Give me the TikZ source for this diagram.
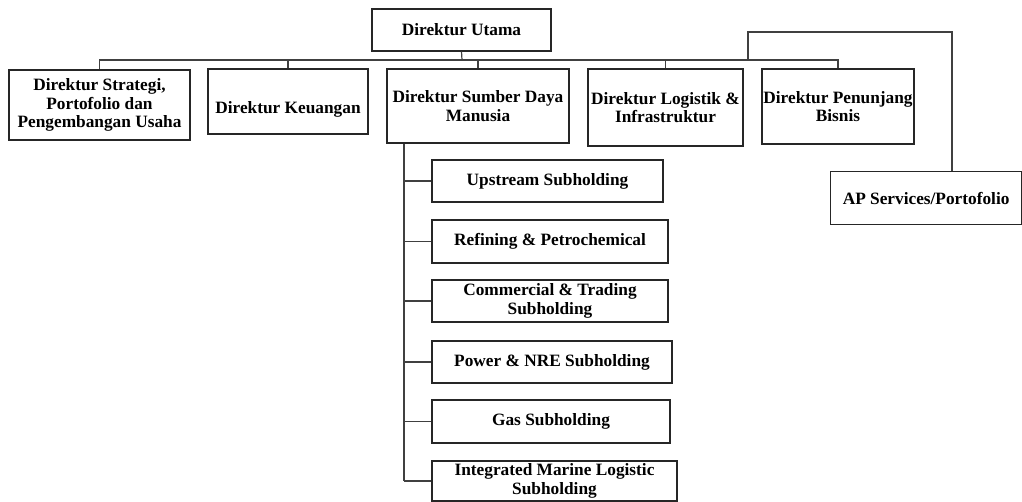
\documentclass[tikz,border=0pt]{standalone}
\usepackage{fontspec}
\setmainfont{Liberation Serif}
\begin{document}
\begin{tikzpicture}[x=1pt,y=-1pt,
  box/.style={draw=black!85, line width=1.2pt, align=center, inner sep=0pt,
    font=\bfseries\fontsize{17.3}{18.3}\selectfont},
  txt/.style={align=center, inner sep=0pt, font=\bfseries\fontsize{17.3}{18.3}\selectfont},
  conn/.style={draw=black!75, line width=1.2pt}]
\useasboundingbox (0,0) rectangle (1022,502);
% top level
\node[box, minimum width=179pt, minimum height=42pt] (utama) at (461.5,30) {Direktur Utama};
\node[box, minimum width=181pt, minimum height=70pt] (strat) at (99.5,105) {Direktur Strategi,\\Portofolio dan\\Pengembangan Usaha};
\node[box, minimum width=160pt, minimum height=65pt] (keu) at (288,101.5) {};
\node[txt] (keut) at (288,109) {Direktur Keuangan};
\node[box, minimum width=182pt, minimum height=74pt] (sdm) at (478,106) {Direktur Sumber Daya\\Manusia};
\node[box, minimum width=155pt, minimum height=77pt] (log) at (665.5,107.5) {Direktur Logistik \&\\Infrastruktur};
\node[box, minimum width=152pt, minimum height=75pt] (pen) at (838,106.5) {Direktur Penunjang\\Bisnis};
\node[box, minimum width=191pt, minimum height=53pt, anchor=north west] (ap) at (830,171) {AP Services/Portofolio};
% subholdings
\node[box, minimum width=231pt, minimum height=42pt] (up) at (547.5,181) {Upstream Subholding};
\node[box, minimum width=236pt, minimum height=43pt] (ref) at (550,241.5) {Refining \& Petrochemical};
\node[box, minimum width=236pt, minimum height=42pt] (com) at (550,301) {Commercial \& Trading\\Subholding};
\node[box, minimum width=240pt, minimum height=42pt] (pow) at (552,362) {Power \& NRE Subholding};
\node[box, minimum width=238pt, minimum height=43pt] (gas) at (551,421.5) {Gas Subholding};
\node[box, minimum width=245pt, minimum height=40pt] (int) at (554.5,481) {Integrated Marine Logistic\\Subholding};
% bus
\coordinate (b) at (462,60);
\coordinate (apj) at (748,60);
\coordinate (apc) at (952,32);
\coordinate (sp) at (404,143);
\draw[conn] (utama.south) -- (b);
\draw[conn] (strat.north) -- (strat.north |- b) -- (pen.north |- b) -- (pen.north);
\draw[conn] (keu.north) -- (keu.north |- b);
\draw[conn] (sdm.north) -- (sdm.north |- b);
\draw[conn] (log.north) -- (log.north |- b);
\draw[conn] (apj) |- (apc) -- (apc |- ap.north);
% spine
\draw[conn] (sdm.south -| sp) -- (sp |- int.west);
\foreach \n in {up,ref,com,pow,gas,int} \draw[conn] (\n.west -| sp) -- (\n.west);
\end{tikzpicture}
\end{document}
